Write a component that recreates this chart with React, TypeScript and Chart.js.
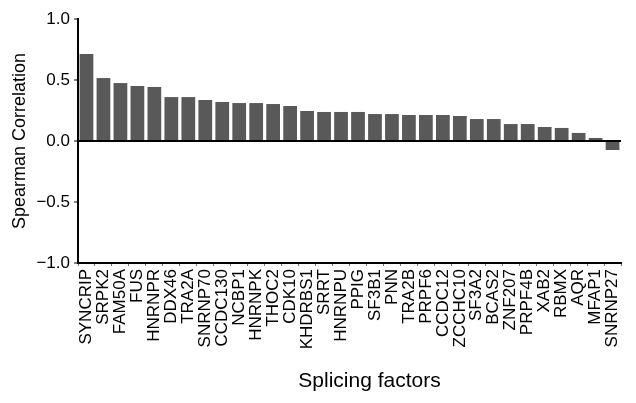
import React, { useEffect, useRef } from "react";
import { Chart, registerables } from "chart.js";

Chart.register(...registerables);

const categories: string[] = [
  "SYNCRIP", "SRPK2", "FAM50A", "FUS", "HNRNPR", "DDX46", "TRA2A", "SNRNP70",
  "CCDC130", "NCBP1", "HNRNPK", "THOC2", "CDK10", "KHDRBS1", "SRRT", "HNRNPU",
  "PPIG", "SF3B1", "PNN", "TRA2B", "PRPF6", "CCDC12", "ZCCHC10", "SF3A2",
  "BCAS2", "ZNF207", "PRPF4B", "XAB2", "RBMX", "AQR", "MFAP1", "SNRNP27",
];

const correlations: number[] = [
  0.713, 0.516, 0.475, 0.451, 0.443, 0.36, 0.36, 0.336,
  0.32, 0.311, 0.311, 0.303, 0.287, 0.246, 0.238, 0.238,
  0.238, 0.221, 0.221, 0.213, 0.213, 0.213, 0.205, 0.18,
  0.18, 0.139, 0.139, 0.115, 0.107, 0.066, 0.025, -0.074,
];

const yTicks: number[] = [-1, -0.5, 0, 0.5, 1];
const yTickLabels: string[] = ["\u22121.0", "\u22120.5", "0.0", "0.5", "1.0"];

const xTitle = "Splicing factors";
const yTitle = "Spearman Correlation";

const FONT = "'Liberation Sans', Arial, Helvetica, sans-serif";

export default function App() {
  const ref = useRef<HTMLCanvasElement | null>(null);

  useEffect(() => {
    if (!ref.current) return;
    const xTitlePlugin = {
      id: "xTitlePlugin",
      afterDraw(chart: any) {
        const { ctx, chartArea } = chart;
        ctx.save();
        ctx.fillStyle = "#000";
        ctx.font = `21px ${FONT}`;
        ctx.textAlign = "center";
        ctx.textBaseline = "middle";
        ctx.fillText(xTitle, (chartArea.left + chartArea.right) / 2 + 20, 381);
        ctx.restore();
      },
    };
    const chart = new Chart(ref.current, {
      type: "bar",
      data: {
        labels: categories,
        datasets: [
          {
            data: correlations,
            backgroundColor: "#595959",
            borderWidth: 0,
            categoryPercentage: 1,
            barPercentage: 0.81,
          },
        ],
      },
      options: {
        animation: false,
        responsive: false,
        maintainAspectRatio: false,
        layout: { padding: { top: 19, right: 3, left: 0, bottom: 0 } },
        plugins: {
          legend: { display: false },
          tooltip: { enabled: false },
        },
        scales: {
          x: {
            afterFit(scale: any) {
              scale.height = 140;
            },
            grid: {
              drawOnChartArea: false,
              tickLength: 3,
              tickColor: "#777",
              tickWidth: 1,
            },
            border: { color: "#000", width: 2 },
            ticks: {
              color: "#000",
              font: { family: FONT, size: 17 },
              minRotation: 90,
              maxRotation: 90,
              autoSkip: false,
              padding: 3,
            },
          },
          y: {
            min: -1,
            max: 1,
            afterFit(scale: any) {
              scale.width = 78;
            },
            afterBuildTicks(scale: any) {
              scale.ticks = yTicks.map((v) => ({ value: v }));
            },
            grid: {
              color: (c: any) => (c.tick && c.tick.value === 0 ? "#000" : "rgba(0,0,0,0)"),
              lineWidth: 2,
              tickColor: "#000",
              tickLength: 4,
              tickWidth: 1,
            },
            border: { color: "#000", width: 2 },
            ticks: {
              color: "#000",
              font: { family: FONT, size: 17 },
              padding: 4,
              callback: (v: any) => {
                const i = yTicks.indexOf(Number(v));
                return i >= 0 ? yTickLabels[i] : "";
              },
            },
            title: {
              display: true,
              text: yTitle,
              color: "#000",
              font: { family: FONT, size: 18 },
              padding: { top: 9, bottom: 0 },
            },
          },
        },
      },
      plugins: [xTitlePlugin],
    });
    return () => chart.destroy();
  }, []);

  return (
    <div style={{ position: "fixed", left: 0, top: 0, width: 636, height: 403, background: "#fff" }}>
      <canvas ref={ref} width={636} height={403} style={{ width: 636, height: 403, display: "block" }} />
    </div>
  );
}
